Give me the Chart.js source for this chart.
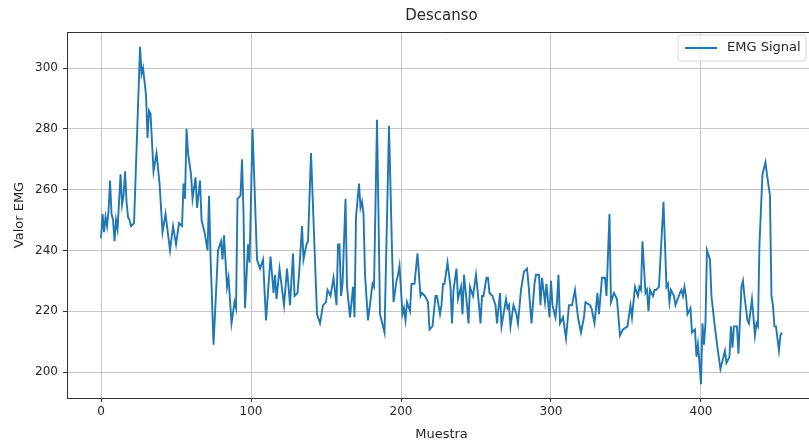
<!DOCTYPE html>
<html>
<head>
<meta charset="utf-8">
<script src="https://cdn.jsdelivr.net/npm/chart.js@4/dist/chart.umd.min.js"></script>
<style>
  html, body { margin: 0; padding: 0; background: #fff; overflow: hidden; }
  #wrap { width: 820px; height: 444px; position: relative; }
</style>
</head>
<body>
<div id="wrap"><canvas id="emgChart"></canvas></div>
<script>
// sample index / EMG value pairs (turning points of the trace)
const sampleIdx = [
  0, 1, 2, 3, 4, 5, 6, 7, 8, 9, 10, 11, 12, 13, 14, 15, 16, 17, 18, 19, 20, 22,
  26, 27, 28, 30, 31, 32, 33, 35, 37, 39, 41, 43, 46, 48, 50, 52, 54, 55, 56, 57,
  58, 60, 61, 63, 64, 66, 67, 69, 71, 72, 73, 75, 78, 80, 81, 82, 84, 85, 87, 89,
  90, 91, 93, 94, 95, 96, 98, 99, 101, 104, 106, 108, 110, 113, 115, 116, 117, 119, 120, 122,
  124, 126, 128, 129, 131, 132, 134, 135, 137, 138, 140, 143, 144, 146, 148, 150, 151, 153,
  155, 157, 158, 159, 160, 161, 163, 164, 166, 167, 168, 169, 170, 172, 173, 174, 175, 176,
  178, 180, 181, 182, 184, 186, 189, 192, 194, 195, 197, 198, 199, 201, 202, 203, 204, 206,
  207, 209, 211, 213, 214, 216, 218, 219, 221, 223, 224, 226, 227, 228, 229, 231, 233, 234,
  235, 237, 238, 240, 241, 242, 244, 245, 246, 248, 250, 252, 253, 254, 255, 257, 258, 259,
  261, 263, 264, 266, 267, 268, 270, 271, 272, 273, 275, 277, 278, 280, 282, 284, 285, 287,
  289, 290, 292, 293, 294, 296, 297, 299, 300, 301, 303, 304, 305, 306, 308, 310, 312, 314,
  316, 318, 320, 322, 323, 326, 327, 329, 331, 332, 334, 336, 337, 339, 340, 342, 344, 346,
  348, 351, 353, 354, 356, 358, 359, 360, 361, 363, 364, 365, 366, 368, 369, 370, 372, 375,
  377, 378, 379, 380, 382, 383, 386, 387, 388, 389, 390, 391, 393, 394, 396, 397, 398, 399,
  400, 401, 402, 403, 404, 406, 407, 409, 411, 413, 414, 416, 417, 419, 420, 421, 422, 424,
  425, 427, 428, 429, 431, 432, 434, 435, 436, 437, 438, 439, 441, 443, 444, 446, 447, 448,
  449, 450, 452, 453, 454
];
const emgValues = [
  244, 252, 246, 251, 248, 253, 263, 252, 250, 243, 250, 247, 256, 265, 255, 258, 266, 256, 251, 250, 248, 249,
  307, 298, 300, 291, 277, 286, 285, 266, 272, 262, 246, 252, 240, 248, 242, 249, 248, 262, 257, 280,
  272, 265, 257, 264, 254, 263, 250, 246, 240, 258, 238, 209, 240, 243, 237, 245, 228, 231, 216, 223,
  221, 257, 258, 270, 252, 221, 242, 236, 280, 237, 234, 237, 217, 238, 226, 232, 224, 234, 230, 222,
  234, 222, 239, 225, 226, 232, 248, 237, 242, 243, 272, 232, 219, 216, 222, 223, 227, 225,
  231, 222, 242, 242, 225, 229, 257, 228, 218, 223, 228, 218, 251, 262, 254, 256, 252, 232,
  217, 225, 229, 228, 283, 219, 213, 281, 240, 223, 230, 232, 235, 219, 221, 217, 223, 220,
  229, 229, 239, 225, 226, 225, 223, 214, 215, 225, 225, 219, 222, 229, 229, 236, 228, 216,
  227, 234, 224, 228, 219, 232, 222, 216, 228, 225, 232, 222, 216, 225, 225, 231, 231, 226,
  225, 222, 216, 226, 215, 218, 224, 221, 222, 215, 222, 219, 216, 227, 233, 234, 229, 216,
  229, 232, 232, 222, 231, 223, 229, 218, 230, 222, 218, 223, 232, 216, 218, 211, 222, 222,
  227, 218, 213, 218, 223, 222, 221, 216, 226, 219, 231, 231, 225, 252, 223, 226, 224, 212,
  214, 215, 222, 218, 228, 225, 228, 227, 243, 226, 227, 220, 227, 225, 227, 227, 228, 256,
  228, 229, 223, 227, 225, 222, 226, 227, 225, 228, 225, 219, 221, 213, 214, 205, 209, 203,
  196, 216, 209, 216, 240, 237, 225, 216, 208, 201, 203, 207, 203, 205, 215, 208, 215, 215,
  206, 228, 230, 225, 217, 216, 224, 218, 212, 216, 215, 242, 265, 269, 265, 258, 225, 222,
  215, 215, 207, 212, 213
];
const xTicks = [0, 100, 200, 300, 400];
const yTicks = [200, 220, 240, 260, 280, 300];

const lineColor = '#1f77b4';
const textColor = '#262626';
const fontFamily = '"DejaVu Sans", sans-serif';

// matplotlib-style frame, title and legend inside the axes
const framePlugin = {
    id: 'frame',
    afterDraw(chart) {
        const { ctx, chartArea: a } = chart;
        ctx.save();
        ctx.strokeStyle = '#333';
        ctx.lineWidth = 1;
        ctx.beginPath();
        ctx.moveTo(a.left, a.top + 0.5);
        ctx.lineTo(a.right, a.top + 0.5);
        ctx.lineTo(a.right, a.bottom);
        ctx.stroke();

        ctx.fillStyle = textColor;
        ctx.font = '15px ' + fontFamily;
        ctx.textAlign = 'center';
        ctx.textBaseline = 'middle';
        ctx.fillText('Descanso', (a.left + a.right) / 2, 16);

        // legend box
        const bx = 678, by = 35, bw = 128, bh = 26, r = 3;
        ctx.beginPath();
        ctx.moveTo(bx + r, by);
        ctx.arcTo(bx + bw, by, bx + bw, by + bh, r);
        ctx.arcTo(bx + bw, by + bh, bx, by + bh, r);
        ctx.arcTo(bx, by + bh, bx, by, r);
        ctx.arcTo(bx, by, bx + bw, by, r);
        ctx.closePath();
        ctx.fillStyle = 'rgba(255,255,255,0.8)';
        ctx.fill();
        ctx.strokeStyle = '#d6d6d6';
        ctx.stroke();

        const ds = chart.data.datasets[0];
        ctx.strokeStyle = ds.borderColor;
        ctx.lineWidth = 2;
        ctx.beginPath();
        ctx.moveTo(bx + 7, by + 13);
        ctx.lineTo(bx + 39, by + 13);
        ctx.stroke();
        ctx.fillStyle = textColor;
        ctx.font = '13px ' + fontFamily;
        ctx.textAlign = 'left';
        ctx.fillText(ds.label, bx + 49, by + 13);
        ctx.restore();
    }
};

const ctx = document.getElementById('emgChart').getContext('2d');
const emgChart = new Chart(ctx, {
    type: 'line',
    data: {
        datasets: [{
            label: 'EMG Signal',
            data: sampleIdx.map((x, i) => ({ x: x, y: emgValues[i] })),
            borderColor: lineColor,
            borderWidth: 1.9,
            pointRadius: 0,
            tension: 0,
            fill: false
        }]
    },
    options: {
        responsive: true,
        maintainAspectRatio: false,
        animation: false,
        layout: {
            padding: { top: 32, right: 4, left: 0, bottom: 0 }
        },
        plugins: {
            legend: { display: false },
            title: { display: false },
            tooltip: { enabled: false }
        },
        scales: {
            x: {
                type: 'linear',
                min: -22.7,
                max: 476.7,
                afterBuildTicks: (scale) => {
                    scale.ticks = xTicks.map(v => ({ value: v }));
                },
                afterFit: (scale) => { scale.height = 46; },
                ticks: {
                    color: textColor,
                    font: { family: fontFamily, size: 12 },
                    padding: 3,
                    maxRotation: 0,
                    callback: (v) => String(v)
                },
                grid: {
                    color: '#c6c6c6',
                    lineWidth: 1,
                    tickLength: 4,
                    tickColor: '#333'
                },
                border: { display: true, color: '#333', width: 1 },
                title: {
                    display: true,
                    text: 'Muestra',
                    color: textColor,
                    font: { family: fontFamily, size: 13 },
                    padding: { top: 2, bottom: 2 }
                }
            },
            y: {
                min: 191.45,
                max: 311.85,
                afterBuildTicks: (scale) => {
                    scale.ticks = yTicks.map(v => ({ value: v }));
                },
                afterFit: (scale) => { scale.width = 67; },
                ticks: {
                    color: textColor,
                    font: { family: fontFamily, size: 12 },
                    padding: 5,
                    callback: (v) => String(v)
                },
                grid: {
                    color: '#c6c6c6',
                    lineWidth: 1,
                    tickLength: 4,
                    tickColor: '#333'
                },
                border: { display: true, color: '#333', width: 1 },
                title: {
                    display: true,
                    text: 'Valor EMG',
                    color: textColor,
                    font: { family: fontFamily, size: 13 },
                    padding: { top: 12, bottom: 0 }
                }
            }
        }
    },
    plugins: [framePlugin]
});
</script>
</body>
</html>
